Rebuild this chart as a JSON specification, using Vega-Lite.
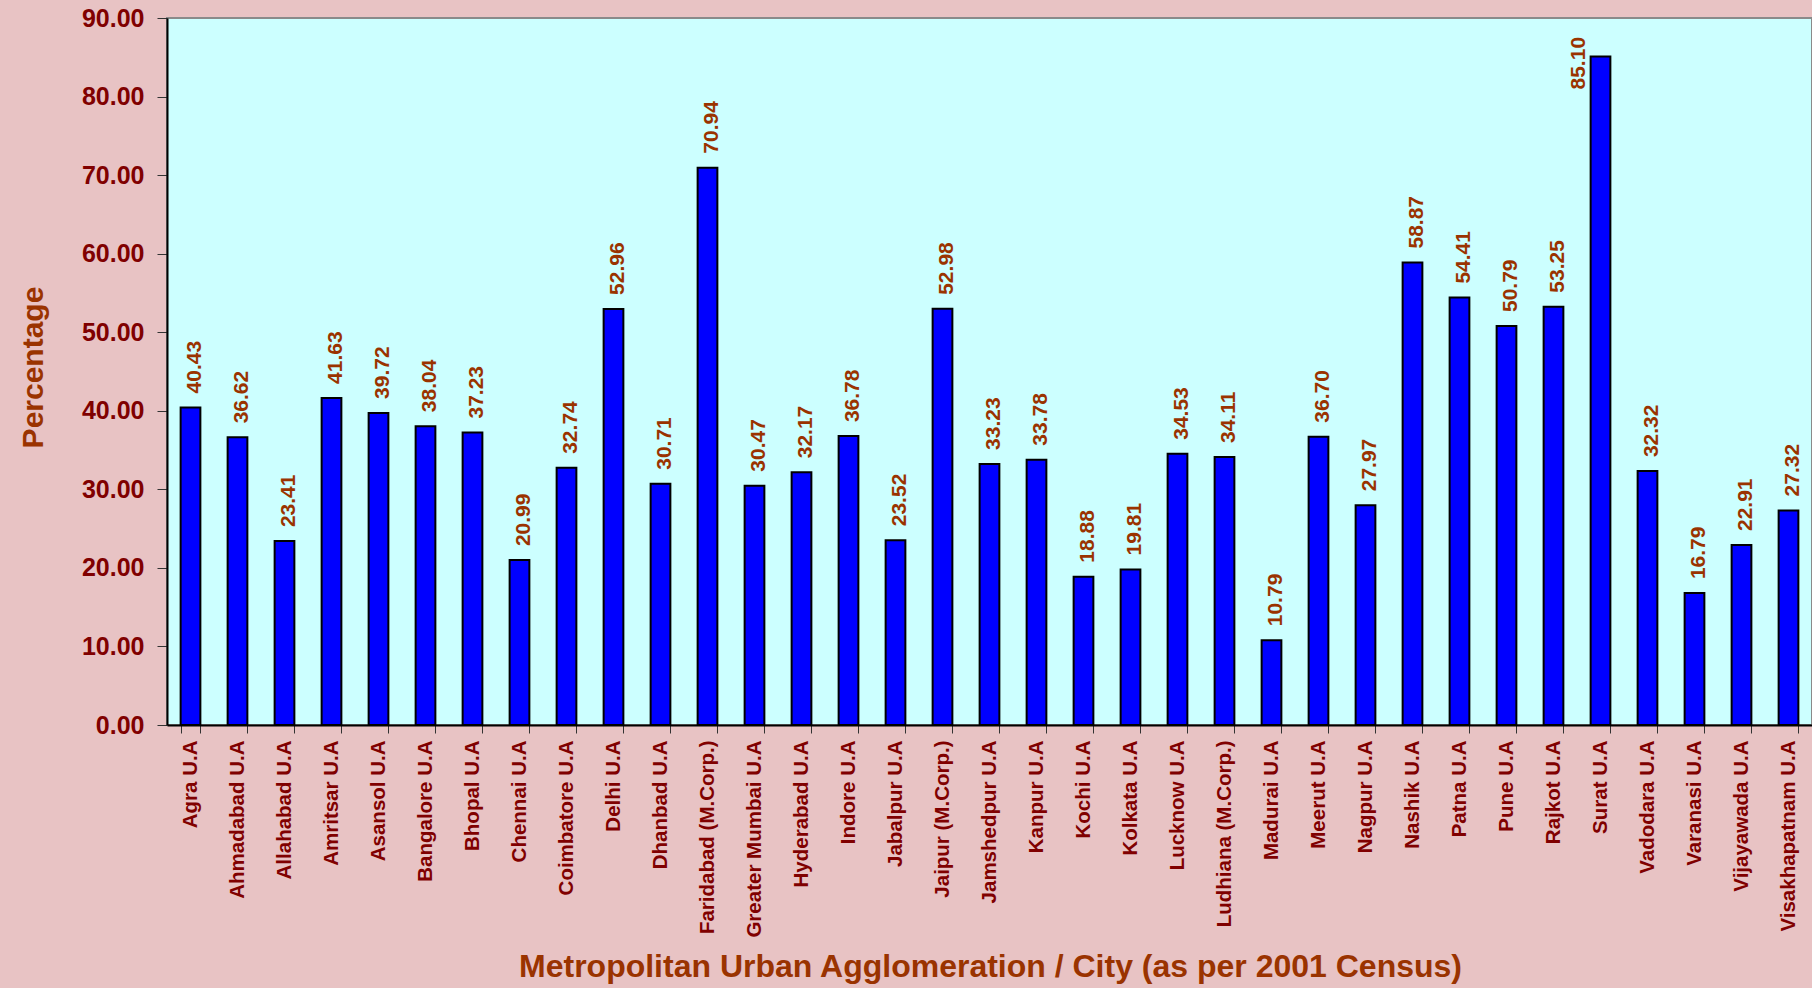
{
  "$schema": "https://vega.github.io/schema/vega-lite/v6.json",
  "autosize": "none",
  "width": 1645,
  "height": 707,
  "padding": {"left": 167, "top": 18, "right": 0, "bottom": 263},
  "background": "#E8C3C4",
  "config": {
    "font": "Liberation Sans",
    "view": {"fill": "#CCFFFF", "stroke": "#8A8A8A", "strokeWidth": 2}
  },
  "data": {
    "values": [
      {"city": "Agra U.A", "pct": 40.43},
      {"city": "Ahmadabad U.A", "pct": 36.62},
      {"city": "Allahabad U.A", "pct": 23.41},
      {"city": "Amritsar U.A", "pct": 41.63},
      {"city": "Asansol U.A", "pct": 39.72},
      {"city": "Bangalore U.A", "pct": 38.04},
      {"city": "Bhopal U.A", "pct": 37.23},
      {"city": "Chennai U.A", "pct": 20.99},
      {"city": "Coimbatore U.A", "pct": 32.74},
      {"city": "Delhi U.A", "pct": 52.96},
      {"city": "Dhanbad U.A", "pct": 30.71},
      {"city": "Faridabad (M.Corp.)", "pct": 70.94},
      {"city": "Greater Mumbai U.A", "pct": 30.47},
      {"city": "Hyderabad U.A", "pct": 32.17},
      {"city": "Indore U.A", "pct": 36.78},
      {"city": "Jabalpur U.A", "pct": 23.52},
      {"city": "Jaipur (M.Corp.)", "pct": 52.98},
      {"city": "Jamshedpur U.A", "pct": 33.23},
      {"city": "Kanpur U.A", "pct": 33.78},
      {"city": "Kochi U.A", "pct": 18.88},
      {"city": "Kolkata U.A", "pct": 19.81},
      {"city": "Lucknow U.A", "pct": 34.53},
      {"city": "Ludhiana (M.Corp.)", "pct": 34.11},
      {"city": "Madurai U.A", "pct": 10.79},
      {"city": "Meerut U.A", "pct": 36.70},
      {"city": "Nagpur U.A", "pct": 27.97},
      {"city": "Nashik U.A", "pct": 58.87},
      {"city": "Patna U.A", "pct": 54.41},
      {"city": "Pune U.A", "pct": 50.79},
      {"city": "Rajkot U.A", "pct": 53.25},
      {"city": "Surat U.A", "pct": 85.10},
      {"city": "Vadodara U.A", "pct": 32.32},
      {"city": "Varanasi U.A", "pct": 16.79},
      {"city": "Vijayawada U.A", "pct": 22.91},
      {"city": "Visakhapatnam U.A", "pct": 27.32}
    ]
  },
  "encoding": {
    "x": {
      "field": "city",
      "type": "nominal",
      "sort": null,
      "scale": {"paddingInner": 0.58, "paddingOuter": 0.29},
      "axis": {
        "title": "Metropolitan Urban Agglomeration / City (as per 2001 Census)",
        "titleFont": "Liberation Sans",
        "titleFontSize": 32,
        "titleFontWeight": "bold",
        "titleColor": "#9A3300",
        "titleX": 823,
        "titleY": 251,
        "titleAlign": "center",
        "titleBaseline": "alphabetic",
        "labelAngle": 270,
        "labelAlign": "right",
        "labelBaseline": "middle",
        "labelFontSize": 20.5,
        "labelFontWeight": "bold",
        "labelColor": "#800000",
        "labelPadding": 7,
        "labelOverlap": false,
        "labelLimit": 400,
        "tickBand": "extent",
        "tickSize": 8,
        "tickColor": "#333333",
        "domainColor": "#000000",
        "domainWidth": 2
      }
    },
    "y": {
      "field": "pct",
      "type": "quantitative",
      "scale": {"domain": [0, 90], "nice": false},
      "axis": {
        "title": "Percentage",
        "titleFontSize": 30,
        "titleFontWeight": "bold",
        "titleColor": "#9A3300",
        "titleAngle": 270,
        "titleX": -134,
        "titleY": 349,
        "titleAlign": "center",
        "titleBaseline": "middle",
        "values": [0, 10, 20, 30, 40, 50, 60, 70, 80, 90],
        "format": ".2f",
        "labelFontSize": 25,
        "labelFontWeight": "bold",
        "labelColor": "#800000",
        "labelPadding": 13,
        "tickSize": 10,
        "tickColor": "#333333",
        "domainColor": "#000000",
        "domainWidth": 2,
        "grid": false
      }
    }
  },
  "layer": [
    {
      "mark": {"type": "bar", "color": "#0000FF", "stroke": "#000000", "strokeWidth": 2}
    },
    {
      "transform": [{"filter": "datum.city !== 'Surat U.A'"}],
      "mark": {
        "type": "text",
        "angle": 270,
        "align": "left",
        "baseline": "middle",
        "dx": 14,
        "dy": 4,
        "fontSize": 21,
        "fontWeight": "bold",
        "color": "#9A3300"
      },
      "encoding": {"text": {"field": "pct", "type": "quantitative", "format": ".2f"}}
    },
    {
      "transform": [{"filter": "datum.city === 'Surat U.A'"}],
      "mark": {
        "type": "text",
        "angle": 270,
        "align": "left",
        "baseline": "middle",
        "dx": -33,
        "dy": -22,
        "fontSize": 21,
        "fontWeight": "bold",
        "color": "#9A3300"
      },
      "encoding": {"text": {"field": "pct", "type": "quantitative", "format": ".2f"}}
    }
  ]
}
